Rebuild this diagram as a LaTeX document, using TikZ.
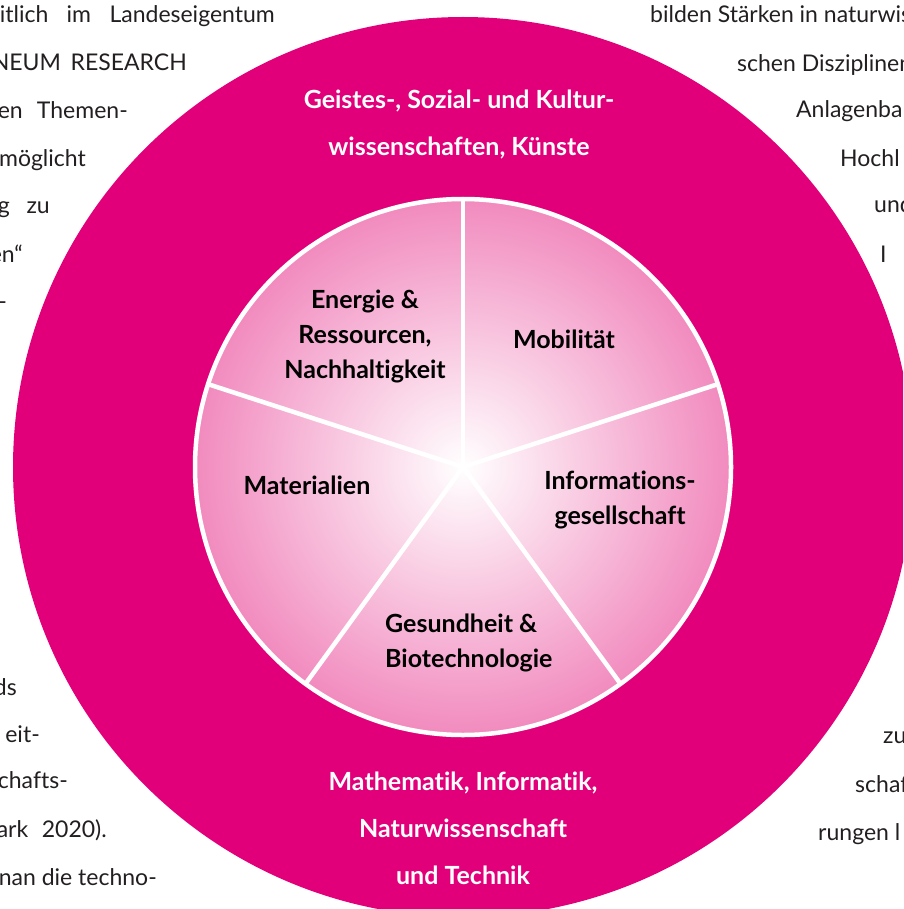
\documentclass[tikz,border=0pt]{standalone}
\usepackage{fontspec}
\setmainfont{Lato}[Ligatures=NoCommon]
\usepackage{xcolor}
\definecolor{ringmag}{RGB}{226,0,122}
\definecolor{hubedge}{RGB}{228,22,126}
\definecolor{bodytext}{RGB}{35,31,32}
\pgfdeclareradialshading{hubshade}{\pgfpointorigin}{color(0bp)=(white); color(50bp)=(hubedge)}

\begin{document}
\begin{tikzpicture}[x=1pt,y=-1pt,
  bodyline/.style={font=\fontsize{23}{23}\selectfont,text=bodytext,inner sep=0pt},
  ringlabel/.style={font=\fontsize{25}{47}\selectfont\bfseries,text=white,align=center},
  hublabel/.style={font=\fontsize{25}{35}\selectfont\bfseries,text=black,inner sep=0pt}]
\useasboundingbox (0,0) rectangle (903,909);
\clip (0,0) rectangle (903,909);
% text of the page behind
\node[bodyline,anchor=base east] (left1) at (275,23) {\hbox to 275pt{itlich\hfill im\hfill Landeseigentum}};
\node[bodyline,anchor=base east] (left2) at (187,71) {\hbox to 195pt{NEUM\hfill RESEARCH}};
\node[bodyline,anchor=base east] (left3) at (128,119) {\hbox to 130pt{en\hfill Themen-}};
\node[bodyline,anchor=base east] (left4) at (86,167) {möglicht};
\node[bodyline,anchor=base east] (left5) at (50,214) {\hbox to 52pt{g\hfill zu}};
\node[bodyline,anchor=base east] (left6) at (23,262) {en“};
\node[bodyline,anchor=base east] (left7) at (7,309) {-};
\node[bodyline,anchor=base east] (left8) at (17,695) {ds};
\node[bodyline,anchor=base east] (left9) at (40,742) {eit-};
\node[bodyline,anchor=base east] (left10) at (68,788) {chafts-};
\node[bodyline,anchor=base east] (left11) at (107,837) {\hbox to 110pt{ark\hfill 2020).}};
\node[bodyline,anchor=base east] (left12) at (157,885) {nan die techno-};
\node[bodyline,anchor=base west] (right1) at (650,23) {bilden Stärken in naturwis};
\node[bodyline,anchor=base west] (right2) at (737,72) {schen Disziplinen};
\node[bodyline,anchor=base west] (right3) at (796,118) {Anlagenba};
\node[bodyline,anchor=base west] (right4) at (840,167) {Hochl};
\node[bodyline,anchor=base west] (right5) at (874,213) {und};
\node[bodyline,anchor=base west] (right6) at (880,262) {I};
\node[bodyline,anchor=base west] (right7) at (883,743) {zu};
\node[bodyline,anchor=base west] (right8) at (855,792) {schaft};
\node[bodyline,anchor=base west] (right9) at (818,840) {rungen l};
% ring and hub
\coordinate (hub) at (463,467);
\fill[ringmag] (hub) circle[radius=450];
\shade[shading=hubshade] (hub) circle[radius=268];
\foreach \a [count=\i] in {-90,-18,54,126,198}
  \path (hub) ++(\a:268) coordinate (rim\i);
\foreach \i in {1,...,5}
  \draw[white,line width=4.5pt] (hub) -- (rim\i);
\draw[white,line width=4.5pt] (hub) circle[radius=268];
% labels
\node[ringlabel] (geist) at (459,124) {Geistes-, Sozial- und Kultur-\\wissenschaften, Künste};
\node[ringlabel] (mint) at (463,828) {Mathematik, Informatik,\\Naturwissenschaft\\und Technik};
\node[hublabel,align=center] (energie) at (365,336) {Energie \&\\Ressourcen,\\Nachhaltigkeit};
\node[hublabel] (mobil) at (564,339) {Mobilität};
\node[hublabel] (mater) at (307,485) {Materialien};
\node[hublabel,align=center] (infoges) at (620,500) {Informations-\\gesellschaft};
\node[hublabel,align=left,anchor=west] (gesund) at (385,643) {Gesundheit \&\\Biotechnologie};
\end{tikzpicture}
\end{document}
